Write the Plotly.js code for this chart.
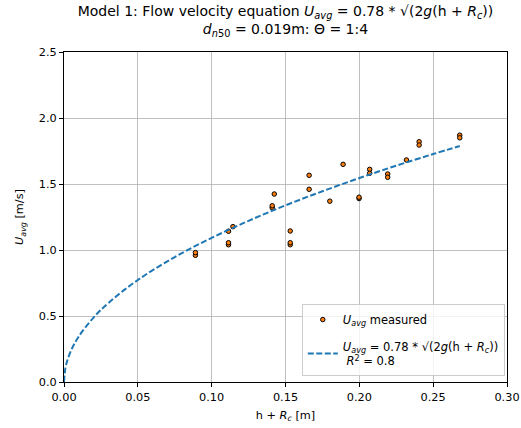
<!DOCTYPE html>
<html>
<head>
<meta charset="utf-8">
<script src="https://cdn.plot.ly/plotly-3.0.1.min.js"></script>
<style>html,body{margin:0;padding:0;background:#fff;}#chart{width:521px;height:428px;}</style>
</head>
<body>
<div id="chart"></div>
<script>
// measured points (h + Rc [m], Uavg [m/s])
const measuredX = [0.089, 0.089, 0.1114, 0.1114, 0.1114, 0.1144, 0.1424, 0.141, 0.141, 0.1532, 0.1532, 0.1532, 0.166, 0.166, 0.180, 0.189, 0.1998, 0.1998, 0.207, 0.207, 0.2192, 0.2192, 0.2319, 0.2405, 0.2405, 0.268, 0.268];
const measuredY = [0.96, 0.98, 1.142, 1.04, 1.055, 1.177, 1.424, 1.32, 1.335, 1.144, 1.04, 1.055, 1.566, 1.46, 1.37, 1.649, 1.39, 1.40, 1.611, 1.581, 1.576, 1.551, 1.682, 1.82, 1.795, 1.87, 1.85];
// fitted curve
const fitX = [0, 0.001, 0.002, 0.005, 0.01, 0.02, 0.03, 0.05, 0.075, 0.1, 0.125, 0.15, 0.175, 0.2, 0.225, 0.25, 0.268];
const fitY = [0, 0.109, 0.154, 0.244, 0.345, 0.488, 0.598, 0.773, 0.946, 1.092, 1.221, 1.338, 1.445, 1.545, 1.639, 1.727, 1.788];
const xTicks = [0, 0.05, 0.10, 0.15, 0.20, 0.25, 0.30];
const xTickText = ['0.00', '0.05', '0.10', '0.15', '0.20', '0.25', '0.30'];
const yTicks = [0, 0.5, 1.0, 1.5, 2.0, 2.5];
const yTickText = ['0.0', '0.5', '1.0', '1.5', '2.0', '2.5'];

const font = 'DejaVu Sans, sans-serif';
const U = '<i>U</i><sub><i>avg</i></sub>';
const traces = [
  {
    x: measuredX, y: measuredY, type: 'scatter', mode: 'markers',
    name: U + ' measured', legendgroup: 'a',
    marker: {color: '#ff7f0e', size: 4.5, line: {color: '#000', width: 1}}
  },
  {
    x: fitX, y: fitY, type: 'scatter', mode: 'lines', legendgroup: 'b',
    name: U + ' = 0.78 * √(2<i>g</i>(h + <i>R</i><sub><i>c</i></sub>))<br> <i>R</i><sup>2</sup> = 0.8',
    line: {color: '#1f77b4', width: 2, dash: '6px,2.5px', shape: 'spline'}
  }
];
const layout = {
  width: 521, height: 428,
  margin: {l: 64, r: 14, t: 52, b: 46},
  paper_bgcolor: '#fff', plot_bgcolor: '#fff',
  font: {family: font, size: 11, color: '#000'},
  title: {
    text: 'Model 1: Flow velocity equation ' + U + ' = 0.78 * √(2<i>g</i>(h + <i>R</i><sub><i>c</i></sub>))<br><i>d</i><sub><i>n</i>50</sub> = 0.019m: Θ = 1:4',
    font: {family: font, size: 14, color: '#000'},
    x: 0.5, xref: 'paper', xanchor: 'center',
    y: 1, yref: 'paper', yanchor: 'bottom', pad: {b: 36}
  },
  showlegend: true,
  legend: {
    x: 0.995, xanchor: 'right', y: 0.018, yanchor: 'bottom',
    bgcolor: 'rgba(255,255,255,0.8)', bordercolor: '#cccccc', borderwidth: 1,
    font: {family: font, size: 11.5, color: '#000'}, tracegroupgap: 8,
    itemwidth: 30
  },
  xaxis: {
    range: [0, 0.30], tickvals: xTicks, ticktext: xTickText,
    showgrid: true, gridcolor: '#b0b0b0', gridwidth: 0.8,
    showline: true, linecolor: '#000', linewidth: 1, mirror: true,
    ticks: 'outside', ticklen: 4, tickcolor: '#000', zeroline: false,
    tickfont: {family: font, size: 11.3},
    title: {text: 'h + <i>R</i><sub><i>c</i></sub> [m]', font: {family: font, size: 11.3}, standoff: 8}
  },
  yaxis: {
    range: [0, 2.5], tickvals: yTicks, ticktext: yTickText,
    showgrid: true, gridcolor: '#b0b0b0', gridwidth: 0.8,
    showline: true, linecolor: '#000', linewidth: 1, mirror: true,
    ticks: 'outside', ticklen: 4, tickcolor: '#000', zeroline: false,
    tickfont: {family: font, size: 11.3},
    title: {text: U + ' [m/s]', font: {family: font, size: 11.3}, standoff: 12}
  }
};
Plotly.newPlot('chart', traces, layout, {displayModeBar: false, staticPlot: true});
</script>
</body>
</html>
